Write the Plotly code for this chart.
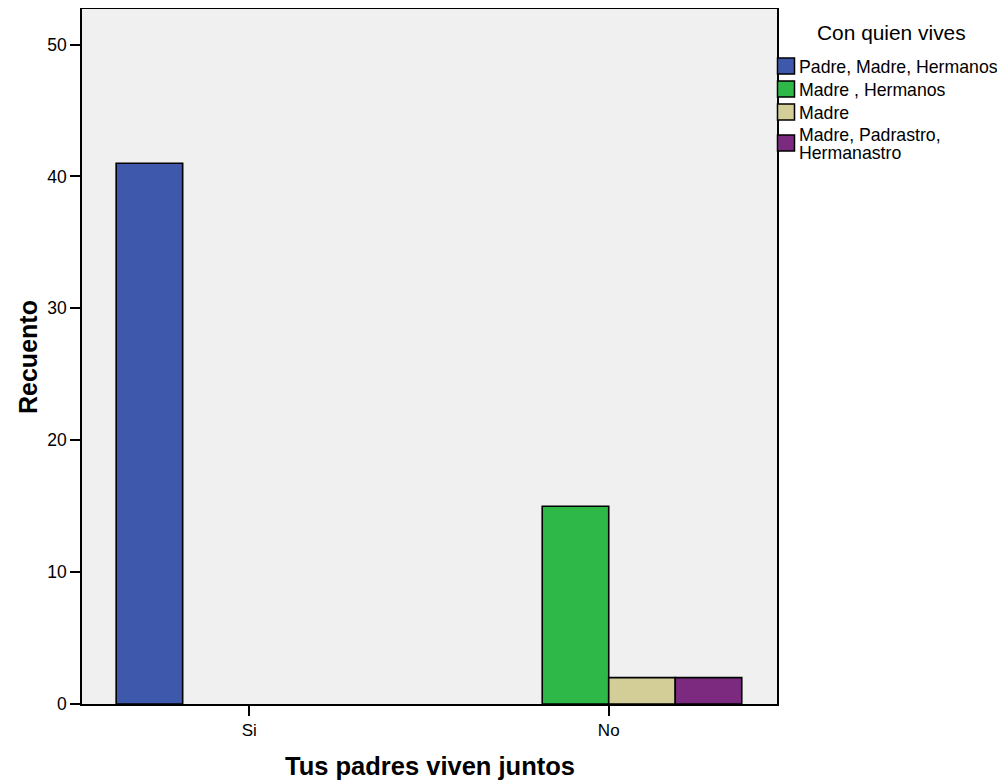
import plotly.graph_objects as go

categories = ["Si", "No"]
series_names = ["Padre, Madre, Hermanos", "Madre , Hermanos", "Madre", "Madre, Padrastro,<br>Hermanastro"]
series_values = [
    [41, 0],
    [0, 15],
    [0, 2],
    [0, 2],
]
colors = ["#3E58AC", "#2EB848", "#D3CE97", "#7B2A7F"]
legend_title = "Con quien vives"

# figure size (page body has an 8px margin)
W, H = 997, 772
ML, MR, MT, MB = 74, 228, 1, 76
PW, PH = W - ML - MR, H - MT - MB


def px_x(x_page):
    return (x_page - 8 - ML) / PW


def px_y(y_page):
    return (H - MB - (y_page - 8)) / PH


fig = go.Figure()
for name, vals, col in zip(series_names, series_values, colors):
    fig.add_trace(go.Bar(
        x=categories, y=vals, name=name.replace("<br>", " "), showlegend=False,
        marker=dict(color=col,
                    line=dict(color="black", width=[1.6 if v > 0 else 0 for v in vals])),
    ))

FONT = "Liberation Sans, Arial, sans-serif"
annotations = []
shapes = []

# legend (drawn as text + swatches to mirror the SPSS style)
annotations.append(dict(text=legend_title, xref="paper", yref="paper",
                        x=px_x(891), y=px_y(33), xanchor="center", yanchor="middle",
                        showarrow=False, font=dict(size=20.9, family=FONT)))
swatch_centers = [66, 89, 112, 143]
for name, col, yc in zip(series_names, colors, swatch_centers):
    shapes.append(dict(type="rect", xref="paper", yref="paper",
                       x0=px_x(777.5), x1=px_x(794.5), y0=px_y(yc - 8), y1=px_y(yc + 8),
                       fillcolor=col, line=dict(color="black", width=1.5)))
    lines = name.split("<br>")
    if len(lines) == 1:
        line_ys = [yc + 1]
    else:
        line_ys = [yc - 8, yc + 10]
    for line, ly in zip(lines, line_ys):
        annotations.append(dict(text=line, xref="paper", yref="paper",
                                x=px_x(797), y=px_y(ly), xanchor="left", yanchor="middle",
                                align="left", showarrow=False,
                                font=dict(size=17.7, family=FONT)))

# axis titles
annotations.append(dict(text="<b>Recuento</b>", xref="paper", yref="paper",
                        x=px_x(28), y=px_y(357), xanchor="center", yanchor="middle",
                        textangle=-90, showarrow=False, font=dict(size=25, family=FONT)))
annotations.append(dict(text="<b>Tus padres viven juntos</b>", xref="paper", yref="paper",
                        x=px_x(430), y=px_y(766), xanchor="center", yanchor="middle",
                        showarrow=False, font=dict(size=25.5, family=FONT)))

fig.update_layout(
    width=W, height=H,
    barmode="group", bargap=0.26, bargroupgap=0,
    plot_bgcolor="#F0F0F0", paper_bgcolor="white",
    margin=dict(l=ML, r=MR, t=MT, b=MB, autoexpand=False),
    font=dict(family=FONT, color="black"),
    showlegend=False,
    annotations=annotations,
    shapes=shapes,
)
fig.update_xaxes(
    range=[-0.465, 1.468],
    showline=True, linecolor="black", linewidth=1.6, mirror=True,
    ticks="outside", ticklen=10, tickwidth=1.6, tickcolor="black",
    tickfont=dict(size=17),
    showgrid=False,
)
fig.update_yaxes(
    range=[0, 52.7], tickvals=[0, 10, 20, 30, 40, 50],
    showline=True, linecolor="black", linewidth=1.6, mirror=True,
    ticks="outside", ticklen=10, tickwidth=1.6, tickcolor="black",
    tickfont=dict(size=17.5),
    showgrid=False, zeroline=False,
)

fig.write_html("out.html")
